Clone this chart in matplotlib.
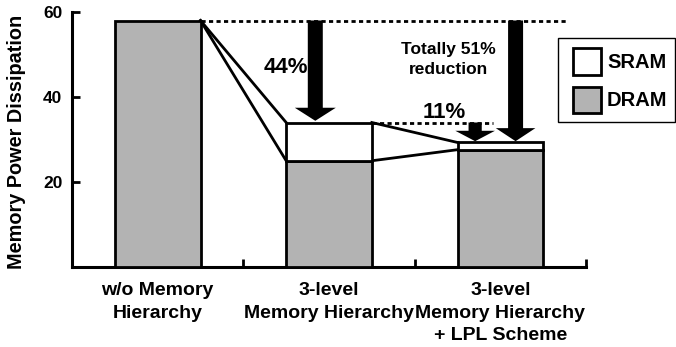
import matplotlib
matplotlib.use("Agg")
import matplotlib.pyplot as plt
from matplotlib.patches import Rectangle

plt.rcParams['font.family'] = ['Liberation Sans', 'DejaVu Sans']
plt.rcParams['font.weight'] = 'bold'

categories = ["w/o Memory\nHierarchy", "3-level\nMemory Hierarchy", "3-level\nMemory Hierarchy\n+ LPL Scheme"]
dram = [58.0, 25.0, 27.6]
sram = [0.0, 9.0, 1.7]
y_ticks = [20, 40, 60]
legend_labels = ["SRAM", "DRAM"]
gray = "#b3b3b3"

W, H = 676, 347
fig = plt.figure(figsize=(W / 100, H / 100), dpi=100)
ax = fig.add_axes([72 / W, 1 - 267 / H, (586 - 72) / W, (267 - 12) / H])

x = list(range(len(categories)))
bw = 0.5
totals = [d + s for d, s in zip(dram, sram)]

ax.bar(x, dram, width=bw, color=gray, edgecolor="black", linewidth=2, zorder=3)
for i in x:
    if sram[i] > 0:
        ax.bar(i, sram[i], bottom=dram[i], width=bw, color="white", edgecolor="black", linewidth=2, zorder=3)

# connecting lines between bars
for i in range(len(x) - 1):
    ax.plot([i + bw / 2, i + 1 - bw / 2], [totals[i], totals[i + 1]], color="black", lw=2, zorder=2)
    ax.plot([i + bw / 2, i + 1 - bw / 2], [dram[i], dram[i + 1]], color="black", lw=2, zorder=2)

# dashed reference lines
ax.plot([0 + bw / 2, 2.39], [totals[0], totals[0]], color="black", lw=2, ls=(0, (1.5, 1.2)), zorder=2)
ax.plot([1 + bw / 2, 1.958], [totals[1], totals[1]], color="black", lw=2, ls=(0, (1.5, 1.2)), zorder=2)

def down_arrow(xp, y0, y1, tail, hw, hl):
    ax.annotate("", xy=(xp, y1), xytext=(xp, y0),
                arrowprops=dict(arrowstyle=f"simple,head_length={hl},head_width={hw},tail_width={tail}",
                                mutation_scale=10, color="black", shrinkA=0, shrinkB=0, lw=0),
                zorder=4)

down_arrow(0.92, totals[0], totals[1] + 0.4, 1.08, 2.95, 0.94)
down_arrow(1.853, totals[1], totals[2] + 0.3, 0.95, 2.85, 0.75)
down_arrow(2.089, totals[0], totals[2] + 0.3, 1.08, 2.85, 0.94)

ax.text(0.746, 45.6, "44%", ha="center", va="baseline", fontsize=16, fontweight="bold")
ax.text(1.674, 35.1, "11%", ha="center", va="baseline", fontsize=16, fontweight="bold")
ax.text(1.695, 50.1, "Totally 51%", ha="center", va="baseline", fontsize=12.5, fontweight="bold")
ax.text(1.695, 45.3, "reduction", ha="center", va="baseline", fontsize=12.5, fontweight="bold")

ax.set_xlim(-0.5, 2.5)
ax.set_ylim(0, 60)
ax.set_yticks(y_ticks)
ax.set_yticklabels([str(t) for t in y_ticks], fontsize=12.5, fontweight="bold")
ax.set_xticks(x)
ax.set_xticklabels(categories, fontsize=14, fontweight="bold", linespacing=1.42)
ax.set_xticks([0.5, 1.5, 2.5], minor=True)
ax.tick_params(axis="x", which="major", length=0, pad=11)
ax.tick_params(axis="x", which="minor", direction="in", length=6, width=2)
ax.tick_params(axis="y", direction="in", length=6, width=2, pad=7)
for s in ["top", "right"]:
    ax.spines[s].set_visible(False)
for s in ["left", "bottom"]:
    ax.spines[s].set_linewidth(2.2)

fig.text(17 / W, 1 - 142 / H, "Memory Power Dissipation", rotation=90, ha="center", va="center",
         fontsize=14.3, fontweight="bold")

# legend (manual)
def fr(x0, y0, x1, y1, **kw):
    fig.add_artist(Rectangle((x0 / W, 1 - y1 / H), (x1 - x0) / W, (y1 - y0) / H,
                             transform=fig.transFigure, **kw))

fr(558, 38, 675, 122, facecolor="white", edgecolor="black", lw=1)
fr(573, 48, 601, 75, facecolor="white", edgecolor="black", lw=2)
fr(573, 87, 601, 113, facecolor=gray, edgecolor="black", lw=2)
fig.text(607 / W, 1 - 62 / H, legend_labels[0], ha="left", va="center", fontsize=14.5, fontweight="bold")
fig.text(607 / W, 1 - 101 / H, legend_labels[1], ha="left", va="center", fontsize=14.5, fontweight="bold")

fig.savefig("out.png", dpi=100)
